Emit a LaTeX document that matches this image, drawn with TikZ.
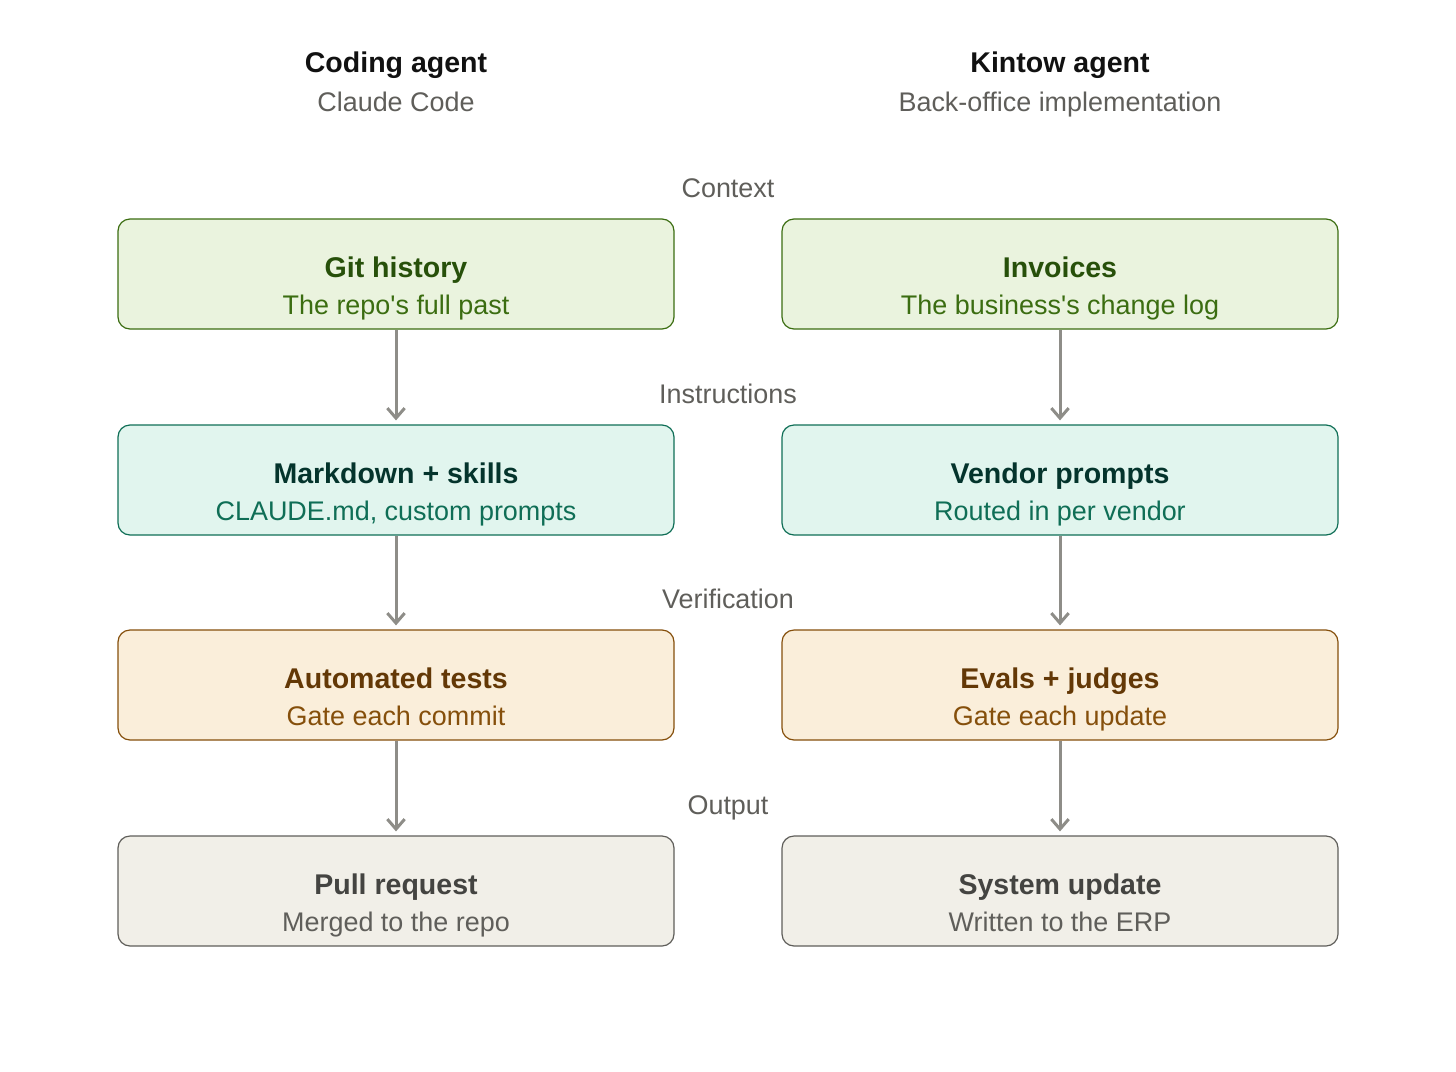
\documentclass[tikz,border=0pt]{standalone}
\usepackage{fontspec}
\setmainfont{Liberation Sans}
\usetikzlibrary{arrows.meta}
\definecolor{gfill}{HTML}{EAF3DE}\definecolor{gdraw}{HTML}{3B6D11}\definecolor{gtitle}{HTML}{27500A}\definecolor{gsub}{HTML}{3B6D11}
\definecolor{tfill}{HTML}{E1F5EE}\definecolor{tdraw}{HTML}{0F6E56}\definecolor{ttitle}{HTML}{04342C}\definecolor{tsub}{HTML}{0F6E56}
\definecolor{ofill}{HTML}{FAEEDA}\definecolor{odraw}{HTML}{854F0B}\definecolor{otitle}{HTML}{633806}\definecolor{osub}{HTML}{854F0B}
\definecolor{yfill}{HTML}{F1EFE8}\definecolor{ydraw}{HTML}{5F5E5A}\definecolor{ytitle}{HTML}{444441}\definecolor{ysub}{HTML}{5F5E5A}
\definecolor{labgray}{HTML}{5F5E5A}
\definecolor{arrgray}{HTML}{8E8D88}
\definecolor{headblack}{HTML}{111111}
\tikzset{
  stagebox/.style={rectangle, rounded corners=9pt, line width=0.9pt, minimum width=417pt, minimum height=82.5pt, inner sep=0pt},
  btitle/.style={anchor=base, inner sep=0pt, font=\fontsize{21.4pt}{24pt}\selectfont\bfseries},
  bsub/.style={anchor=base, inner sep=0pt, font=\fontsize{20.2pt}{24pt}\selectfont},
  rowlab/.style={anchor=base, inner sep=0pt, text=labgray, font=\fontsize{20.2pt}{24pt}\selectfont},
  flow/.style={draw=arrgray, line width=2.25pt, -{Straight Barb[length=7.5pt,width=13pt]}, shorten >=3pt},
}
\begin{document}
\begin{tikzpicture}[x=0.75pt,y=-0.75pt]
\useasboundingbox (0,0) rectangle (1456,1071);
% headings
\node[btitle, text=headblack] (hl) at (396,72) {Coding agent};
\node[bsub, text=labgray] (hls) at (396,111) {Claude Code};
\node[btitle, text=headblack] (hr) at (1060,72) {Kintow agent};
\node[bsub, text=labgray] (hrs) at (1060,111) {Back-office implementation};
% row labels
\node[rowlab] (l1) at (728,197) {Context};
\node[rowlab] (l2) at (728,403) {Instructions};
\node[rowlab] (l3) at (728,608) {Verification};
\node[rowlab] (l4) at (728,814) {Output};
% row 1
\node[stagebox, fill=gfill, draw=gdraw] (a1) at (396,274) {};
\node[stagebox, fill=gfill, draw=gdraw] (b1) at (1060,274) {};
\node[btitle, text=gtitle] (a1t) at (396,277) {Git history};
\node[bsub, text=gsub] (a1s) at (396,314) {The repo\textquotesingle s full past};
\node[btitle, text=gtitle] (b1t) at (1060,277) {Invoices};
\node[bsub, text=gsub] (b1s) at (1060,314) {The business\textquotesingle s change log};
% row 2
\node[stagebox, fill=tfill, draw=tdraw] (a2) at (396,480) {};
\node[stagebox, fill=tfill, draw=tdraw] (b2) at (1060,480) {};
\node[btitle, text=ttitle] (a2t) at (396,483) {Markdown + skills};
\node[bsub, text=tsub] (a2s) at (396,520) {CLAUDE.md, custom prompts};
\node[btitle, text=ttitle] (b2t) at (1060,483) {Vendor prompts};
\node[bsub, text=tsub] (b2s) at (1060,520) {Routed in per vendor};
% row 3
\node[stagebox, fill=ofill, draw=odraw] (a3) at (396,685) {};
\node[stagebox, fill=ofill, draw=odraw] (b3) at (1060,685) {};
\node[btitle, text=otitle] (a3t) at (396,688) {Automated tests};
\node[bsub, text=osub] (a3s) at (396,725) {Gate each commit};
\node[btitle, text=otitle] (b3t) at (1060,688) {Evals + judges};
\node[bsub, text=osub] (b3s) at (1060,725) {Gate each update};
% row 4
\node[stagebox, fill=yfill, draw=ydraw] (a4) at (396,891) {};
\node[stagebox, fill=yfill, draw=ydraw] (b4) at (1060,891) {};
\node[btitle, text=ytitle] (a4t) at (396,894) {Pull request};
\node[bsub, text=ysub] (a4s) at (396,931) {Merged to the repo};
\node[btitle, text=ytitle] (b4t) at (1060,894) {System update};
\node[bsub, text=ysub] (b4s) at (1060,931) {Written to the ERP};
% arrows
\draw[flow] (a1.south) -- (a2.north);
\draw[flow] (a2.south) -- (a3.north);
\draw[flow] (a3.south) -- (a4.north);
\draw[flow] (b1.south) -- (b2.north);
\draw[flow] (b2.south) -- (b3.north);
\draw[flow] (b3.south) -- (b4.north);
\end{tikzpicture}
\end{document}
